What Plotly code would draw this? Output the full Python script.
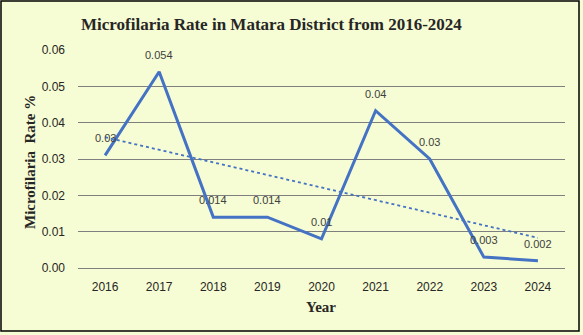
import numpy as np
import plotly.graph_objects as go

years = ["2016", "2017", "2018", "2019", "2020", "2021", "2022", "2023", "2024"]
rates = [0.031, 0.054, 0.014, 0.014, 0.008, 0.0433, 0.030, 0.003, 0.002]
labels = ["0.03", "0.054", "0.014", "0.014", "0.01", "0.04", "0.03", "0.003", "0.002"]
y_ticks = [0.00, 0.01, 0.02, 0.03, 0.04, 0.05, 0.06]
y_ticklabels = ["0.00", "0.01", "0.02", "0.03", "0.04", "0.05", "0.06"]

idx = np.arange(len(years))
slope, intercept = np.polyfit(idx, rates, 1)
trend = slope * idx + intercept

W, H = 583, 335
ml, mr, mt, mb = 78, 18, 50, 67
pw, ph = W - ml - mr, H - mt - mb

def px_x(x):
    return (x - ml) / pw

def px_y(y):
    return (H - mb - y) / ph

fig = go.Figure()
fig.add_trace(go.Scatter(
    x=years, y=trend, mode="lines",
    line=dict(color="#4472C4", width=1.8, dash="dot"),
    hoverinfo="skip", showlegend=False))
fig.add_trace(go.Scatter(
    x=years, y=rates, mode="lines",
    line=dict(color="#4472C4", width=3),
    showlegend=False))

annots = [
    dict(text="<b>Microfilaria Rate in Matara District from 2016-2024</b>",
         xref="paper", yref="paper", x=px_x(271), y=px_y(25),
         xanchor="center", yanchor="middle", showarrow=False,
         font=dict(family="Liberation Serif", size=17, color="#262626")),
    dict(text="<b>Microfilaria  Rate %</b>", textangle=-90,
         xref="paper", yref="paper", x=px_x(30), y=px_y(162),
         xanchor="center", yanchor="middle", showarrow=False,
         font=dict(family="Liberation Serif", size=15, color="#262626")),
    dict(text="<b>Year</b>",
         xref="paper", yref="paper", x=px_x(321), y=px_y(307),
         xanchor="center", yanchor="middle", showarrow=False,
         font=dict(family="Liberation Serif", size=15, color="#262626")),
]
for i, (v, lab) in enumerate(zip(rates, labels)):
    annots.append(dict(text=lab, x=i, y=v, xref="x", yref="y",
                       xanchor="center", yanchor="middle", yshift=17,
                       showarrow=False,
                       font=dict(family="Liberation Sans", size=11, color="#404040")))

fig.update_layout(
    width=W, height=H,
    margin=dict(l=ml, r=mr, t=mt, b=mb),
    paper_bgcolor="#F6FCD3", plot_bgcolor="#F6FCD3",
    xaxis=dict(type="category", range=[-0.5, 8.5], showgrid=False,
               showline=False, zeroline=False, ticks="",
               tickfont=dict(family="Liberation Sans", size=12, color="#262626"),
               ticklabelstandoff=10),
    yaxis=dict(range=[0, 0.06], tickvals=y_ticks, ticktext=y_ticklabels,
               showgrid=True, gridcolor="#7F7F7F", gridwidth=1,
               zeroline=True, zerolinecolor="#7F7F7F", zerolinewidth=1,
               showline=False, ticks="",
               tickfont=dict(family="Liberation Sans", size=12, color="#262626"),
               ticklabelstandoff=12),
    shapes=[dict(type="rect", xref="paper", yref="paper",
                 x0=px_x(1), x1=px_x(579), y0=px_y(331), y1=px_y(1),
                 line=dict(color="#000000", width=1.5), layer="above")],
    annotations=annots,
)

fig.write_html("out.html")
